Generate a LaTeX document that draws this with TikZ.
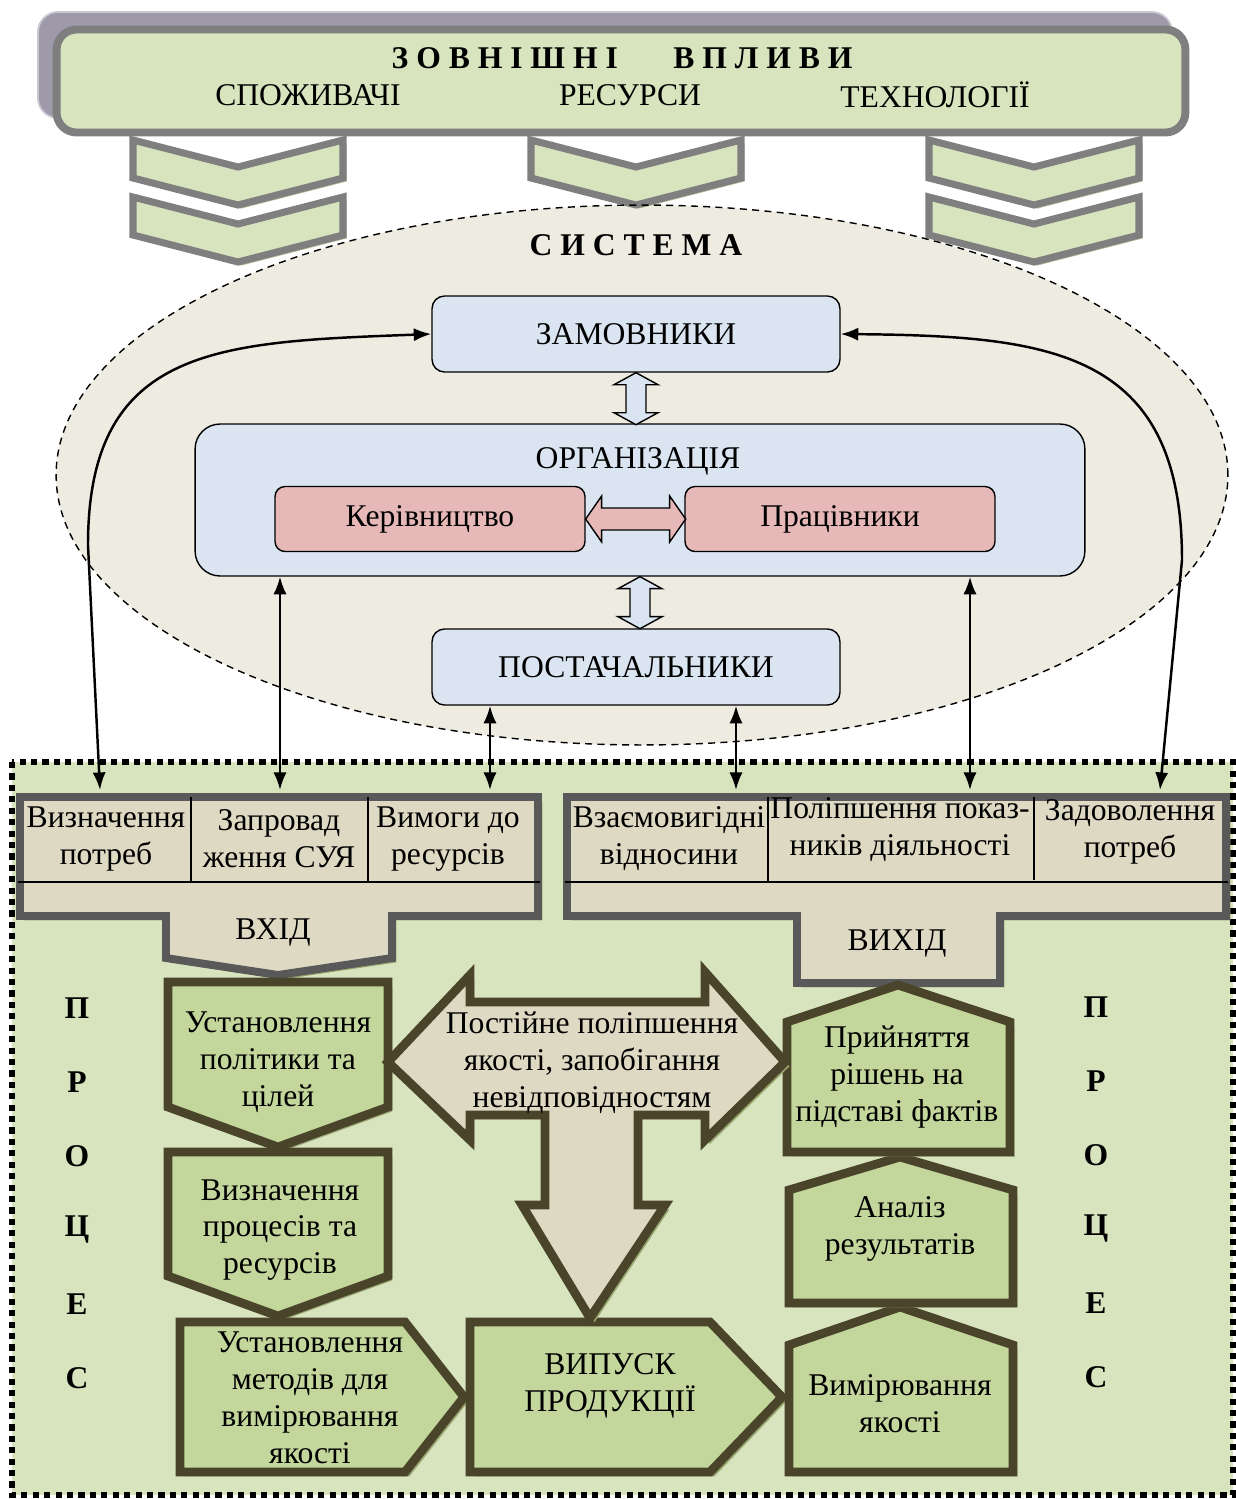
\documentclass[tikz,border=0pt]{standalone}
\usepackage{fontspec}
\setmainfont{Liberation Serif}
\usetikzlibrary{arrows.meta,shadows}

\definecolor{leafgreen}{HTML}{D7E4BD}
\definecolor{framegray}{HTML}{7F7F7F}
\definecolor{lilac}{HTML}{9F9AAA}
\definecolor{lilacline}{HTML}{CBC7D2}
\definecolor{sysbeige}{HTML}{EEECE1}
\definecolor{paleblue}{HTML}{DBE5F1}
\definecolor{palepink}{HTML}{E6B9B8}
\definecolor{tabbeige}{HTML}{DDD9C3}
\definecolor{tabgray}{HTML}{595959}
\definecolor{stepgreen}{HTML}{C3D69B}
\definecolor{stepolive}{HTML}{4A452A}
\definecolor{olivetint}{HTML}{98A46E}

\begin{document}
\begin{tikzpicture}[x=0.02cm, y=-0.02cm,
  font=\fontsize{18}{21}\selectfont,
  txt/.style={align=center, inner sep=0pt},
  heading/.style={txt, font=\fontsize{18}{21}\selectfont\bfseries},
  chevron/.style={fill=leafgreen, draw=framegray, line width=4pt,
    general shadow={fill=olivetint!70, shadow xshift=2pt, shadow yshift=-2pt}},
  bluebox/.style={txt, draw, line width=0.8pt, fill=paleblue, rounded corners=0.25cm,
    minimum width=8.16cm, minimum height=1.52cm},
  pinkbox/.style={txt, draw, line width=0.8pt, fill=palepink, rounded corners=0.2cm,
    minimum width=6.2cm, minimum height=1.3cm},
  blockarrow/.style={draw, line width=0.8pt, line join=miter},
  link/.style={{Latex[length=10pt,width=7.5pt]}-{Latex[length=10pt,width=7.5pt]}, line width=1.4pt},
  tablebox/.style={fill=tabbeige, draw=tabgray, line width=4.5pt, line join=miter,
    general shadow={fill=olivetint, shadow xshift=2.5pt, shadow yshift=-2.5pt}},
  stepshape/.style={fill=stepgreen, draw=stepolive, line width=5pt, line join=miter,
    general shadow={fill=olivetint, shadow xshift=2.5pt, shadow yshift=-2.5pt}},
  rule/.style={line width=1pt}
]
\useasboundingbox (0,0) rectangle (1236,1499);

% external influences
\draw[fill=lilac, draw=lilacline, line width=1pt, rounded corners=0.4cm] (38,12) rectangle (1172,118);
\node[draw=framegray, fill=leafgreen, line width=4.5pt, rounded corners=0.4cm,
  minimum width=22.58cm, minimum height=2.06cm] (ext) at (621,81) {};
\node[heading] (exttitle) at (622,58) {З~О~В~Н~І~Ш~Н~І \quad\enspace В~П~Л~И~В~И};
\node[txt] (cons) at (308,95) {СПОЖИВАЧІ};
\node[txt] (res) at (630,95) {РЕСУРСИ};
\node[txt] (tech) at (935,95) {ТЕХНОЛОГІЇ};

% system
\fill[sysbeige] (642,475) ellipse [x radius=11.72cm, y radius=5.4cm];
\foreach \cx/\cy in {238/140, 238/197, 636/140, 1034/140, 1034/197}
  \draw[chevron] (\cx-105,\cy) -- (\cx,\cy+27) -- (\cx+105,\cy) -- (\cx+105,\cy+38)
    -- (\cx,\cy+65) -- (\cx-105,\cy+38) -- cycle;
\draw[dash pattern=on 4pt off 3pt, line width=0.8pt] (642,475) ellipse [x radius=11.72cm, y radius=5.4cm];
\node[heading] (systitle) at (636,245) {С~И~С~Т~Е~М~А};

\node[bluebox] (zam) at (636,334) {ЗАМОВНИКИ};
\node[draw, line width=0.8pt, fill=paleblue, rounded corners=0.5cm,
  minimum width=17.8cm, minimum height=3.04cm] (org) at (640,500) {};
\node[txt] (orgtitle) at (638,461) {ОРГАНІЗАЦІЯ};
\node[pinkbox] (ker) at (430,519) {Керівництво};
\node[pinkbox] (pra) at (840,519) {Працівники};
\node[bluebox] (post) at (636,667) {ПОСТАЧАЛЬНИКИ};

\draw[blockarrow, fill=paleblue] (zam.south) -- ++(22,12) -- ++(-12,0) -- ++(0,28) -- ++(12,0)
  -- ++(-22,12) -- ++(-22,-12) -- ++(12,0) -- ++(0,-28) -- ++(-12,0) -- cycle;
\draw[blockarrow, fill=paleblue] (org.south) -- ++(22,12) -- ++(-12,0) -- ++(0,28) -- ++(12,0)
  -- ++(-22,12) -- ++(-22,-12) -- ++(12,0) -- ++(0,-28) -- ++(-12,0) -- cycle;
\draw[blockarrow, fill=palepink] (ker.east) -- ++(16,-23) -- ++(0,12) -- ++(68,0) -- ++(0,-12)
  -- ++(16,23) -- ++(-16,23) -- ++(0,-12) -- ++(-68,0) -- ++(0,12) -- cycle;

% process area
\draw[line width=3.5pt, dash pattern=on 3.5pt off 3pt, fill=leafgreen] (12,762) rectangle (1233,1495);

\coordinate (in1) at (100,790);
\coordinate (in2) at (280,790);
\coordinate (in3) at (490,790);
\coordinate (in4) at (736,790);
\coordinate (in5) at (970,790);
\coordinate (in6) at (1160,790);

\draw[link] (zam.west) .. controls (220,342) and (88,345) .. (88,545) -- (in1);
\draw[link] (zam.east) .. controls (1050,336) and (1182,350) .. (1182,560) -- (in6);
\draw[link] (in2 |- org.south) -- (in2);
\draw[link] (in5 |- org.south) -- (in5);
\draw[link] (in3 |- post.south) -- (in3);
\draw[link] (in4 |- post.south) -- (in4);

% input
\draw[tablebox] (20,797) -- (538,797) -- (538,916) -- (392,916) -- (392,958) -- (278,975)
  -- (166,958) -- (166,916) -- (20,916) -- cycle;
\draw[rule] (18,882) -- (540,882) (191,797) -- (191,882) (368,797) -- (368,882);
\node[txt] (need) at (106,839) {Визначення\\потреб};
\node[txt] (qms) at (279,839) {Запровад\\ження СУЯ};
\node[txt] (resreq) at (448,839) {Вимоги до\\ресурсів};
\node[txt] (input) at (273,932) {ВХІД};

% output
\draw[tablebox] (567,797) -- (1226,797) -- (1226,916) -- (1000,916) -- (1000,983) -- (797,983)
  -- (797,916) -- (567,916) -- cycle;
\draw[rule] (565,882) -- (1228,882) (768,797) -- (768,882) (1034,797) -- (1034,880);
\node[txt] (mutual) at (669,839) {Взаємовигідні\\відносини};
\node[txt] (perf) at (900,830) {Поліпшення показ-\\ників діяльності};
\node[txt] (satisf) at (1130,832) {Задоволення\\потреб};
\node[txt] (output) at (897,943) {ВИХІД};

% process steps
\draw[stepshape] (168,982) -- (388,982) -- (388,1107) -- (278,1147) -- (168,1107) -- cycle;
\draw[stepshape] (168,1152) -- (388,1152) -- (388,1276) -- (278,1316) -- (168,1276) -- cycle;
\draw[stepshape] (180,1322) -- (405,1322) -- (464,1397) -- (405,1472) -- (180,1472) -- cycle;
\draw[stepshape] (470,1322) -- (710,1322) -- (782,1397) -- (710,1472) -- (470,1472) -- cycle;
\draw[stepshape] (789,1345) -- (900,1307) -- (1013,1345) -- (1013,1472) -- (789,1472) -- cycle;
\draw[stepshape] (789,1190) -- (900,1157) -- (1013,1190) -- (1013,1303) -- (789,1303) -- cycle;
\draw[stepshape] (787,1022) -- (898,985) -- (1010,1022) -- (1010,1152) -- (787,1152) -- cycle;

\draw[stepshape, fill=tabbeige] (388,1062) -- (470,975) -- (470,1002) -- (705,1002) -- (705,972)
  -- (785,1062) -- (705,1140) -- (705,1115) -- (638,1115) -- (638,1205) -- (665,1205)
  -- (590,1318) -- (522,1205) -- (545,1205) -- (545,1115) -- (470,1115) -- (470,1140) -- cycle;

\node[txt] (policy) at (278,1062) {Установлення\\політики та\\цілей};
\node[txt] (procres) at (280,1230) {Визначення\\процесів та\\ресурсів};
\node[txt] (methods) at (310,1398) {Установлення\\методів для\\вимірювання\\якості};
\node[txt] (release) at (610,1386) {ВИПУСК\\ПРОДУКЦІЇ};
\node[txt] (measure) at (900,1404) {Вимірювання\\якості};
\node[txt] (analysis) at (900,1229) {Аналіз\\результатів};
\node[txt] (decision) at (897,1077) {Прийняття\\рішень на\\підставі фактів};
\node[txt] (improve) at (592,1063) {Постійне поліпшення\\якості, запобігання\\невідповідностям};

\foreach \ch [count=\i] in {П,Р,О,Ц,Е,С} {
  \node[heading] (pleft\i) at (77,{1008+74*(\i-1)}) {\ch};
  \node[heading] (pright\i) at (1096,{1007+74*(\i-1)}) {\ch};
}

\end{tikzpicture}
\end{document}
